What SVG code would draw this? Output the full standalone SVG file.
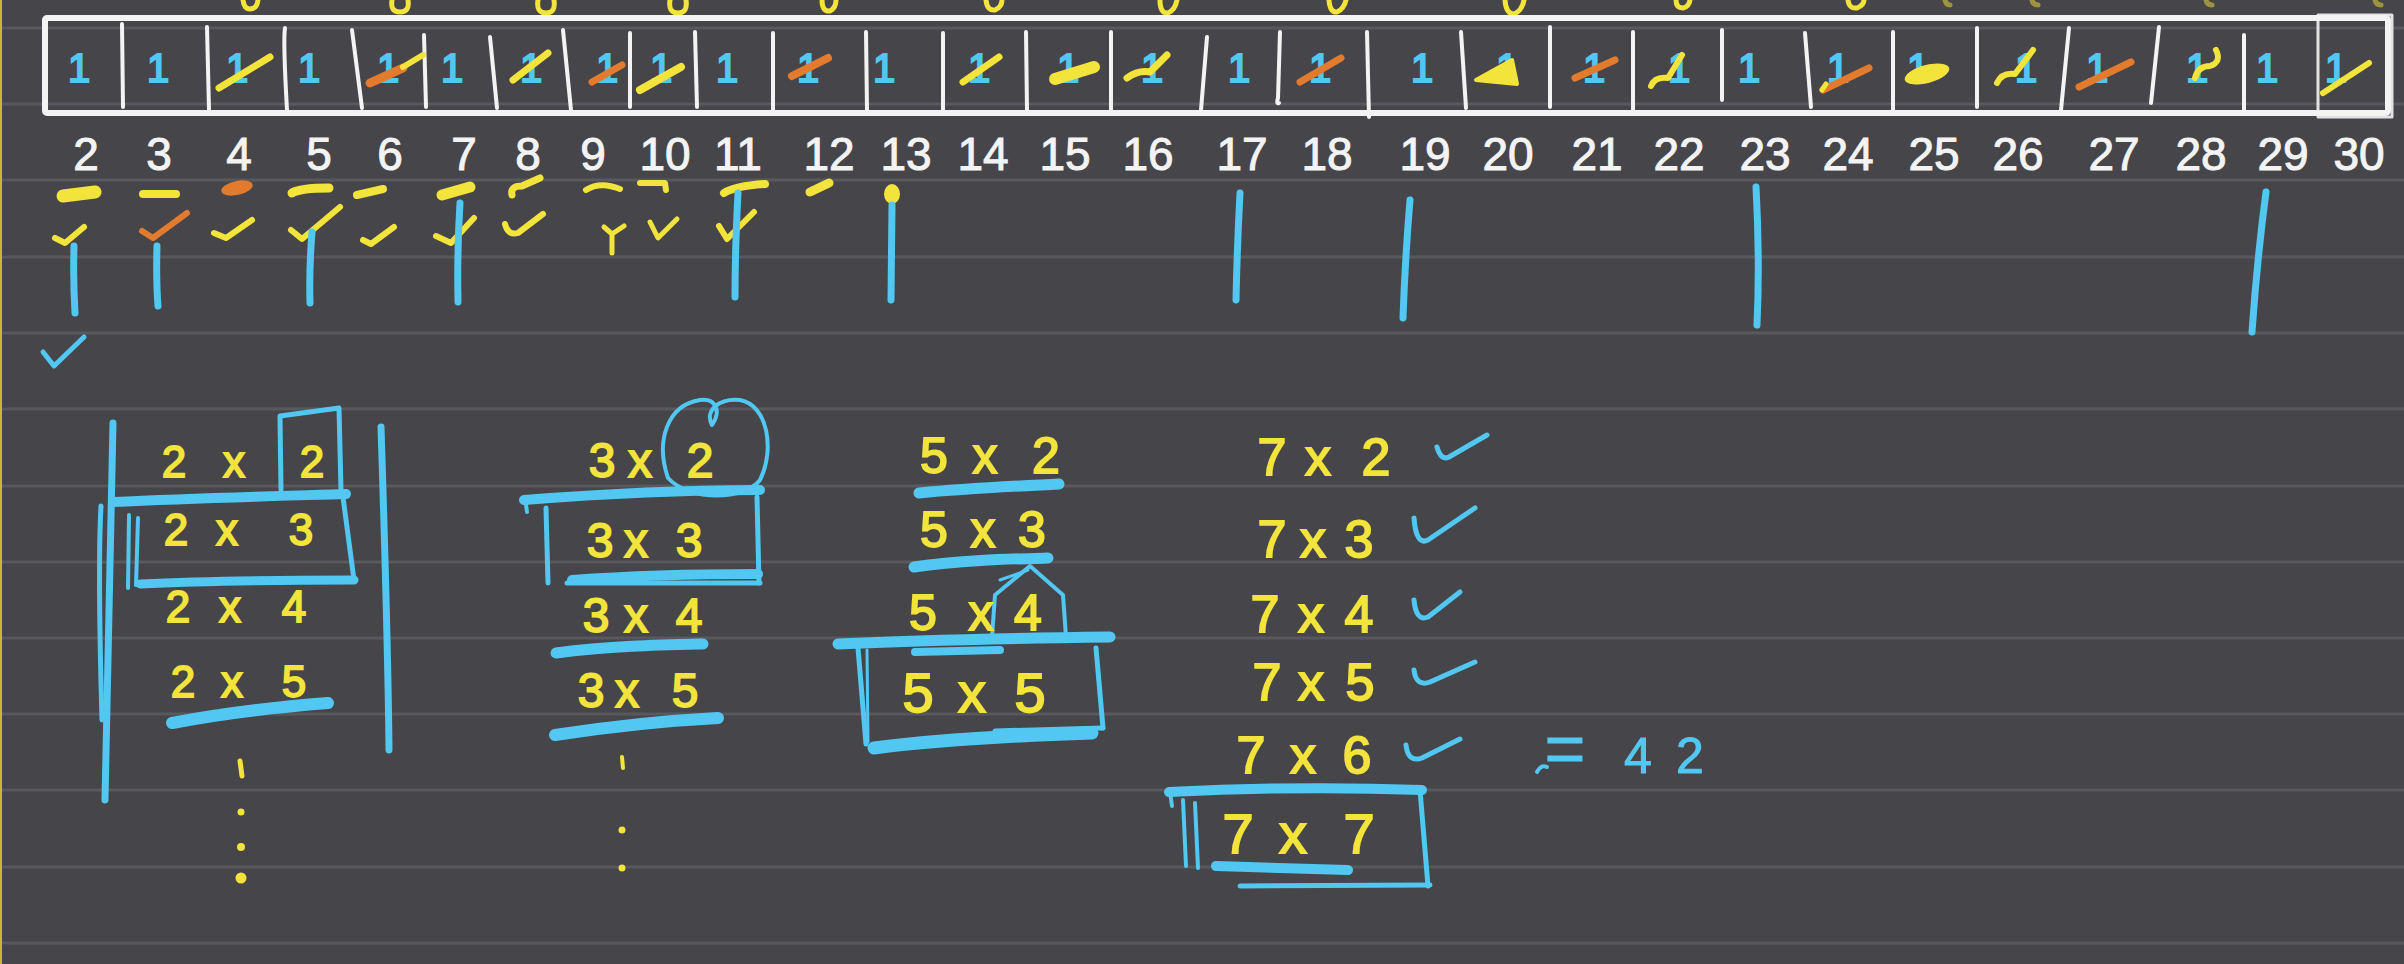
<svg xmlns="http://www.w3.org/2000/svg" width="2404" height="964" viewBox="0 0 2404 964">
<defs>
<style>
.rule{stroke:#59585c;stroke-width:3}
.wl{fill:none;stroke:#f3f3f3;stroke-linecap:round;stroke-linejoin:round}
.cy{fill:none;stroke:#52c7f1;stroke-linecap:round;stroke-linejoin:round}
.ye{fill:none;stroke:#f3e43c;stroke-linecap:round;stroke-linejoin:round}
.or{fill:none;stroke:#e27b2d;stroke-linecap:round;stroke-linejoin:round}
.num{font-family:"Liberation Sans",Arial,sans-serif;font-size:46px;fill:#f3f3f3;stroke:#f3f3f3;stroke-width:1;text-anchor:middle}
.one{font-family:"Liberation Sans",Arial,sans-serif;font-size:40px;fill:#52c7f1;stroke:#52c7f1;stroke-width:2;text-anchor:middle}
.ex{font-family:"Liberation Sans",Arial,sans-serif;fill:#f3e43c;stroke:#f3e43c;stroke-width:1.8;text-anchor:middle}
.cyt{font-family:"Liberation Sans",Arial,sans-serif;fill:#52c7f1;stroke:#52c7f1;stroke-width:1;text-anchor:middle}
</style>
</defs>
<rect width="2404" height="964" fill="#464549"/>
<g id="ruling">
<line class="rule" x1="0" y1="28" x2="2404" y2="28"/>
<line class="rule" x1="0" y1="104" x2="2404" y2="104"/>
<line class="rule" x1="0" y1="180" x2="2404" y2="180"/>
<line class="rule" x1="0" y1="257" x2="2404" y2="257"/>
<line class="rule" x1="0" y1="333" x2="2404" y2="333"/>
<line class="rule" x1="0" y1="409" x2="2404" y2="409"/>
<line class="rule" x1="0" y1="486" x2="2404" y2="486"/>
<line class="rule" x1="0" y1="562" x2="2404" y2="562"/>
<line class="rule" x1="0" y1="638" x2="2404" y2="638"/>
<line class="rule" x1="0" y1="714" x2="2404" y2="714"/>
<line class="rule" x1="0" y1="790" x2="2404" y2="790"/>
<line class="rule" x1="0" y1="867" x2="2404" y2="867"/>
<line class="rule" x1="0" y1="943" x2="2404" y2="943"/>
<rect x="0" y="0" width="2" height="964" fill="#c9b838"/>
</g>
<g id="top-marks" class="ye" stroke-width="5">
<path d="M243,0 Q244,9 250,9 Q257,9 258,0"/>
<path d="M392,0 Q390,12 400,12 Q410,12 408,0"/>
<path d="M538,0 Q536,13 546,13 Q556,13 554,0"/>
<path d="M670,0 Q668,13 678,13 Q688,13 686,0"/>
<path d="M822,0 Q822,12 830,11 Q836,8 836,0"/>
<path d="M986,0 Q987,11 995,10 Q1002,7 1002,0"/>
<path d="M1160,0 Q1160,14 1168,13 Q1175,10 1177,0"/>
<path d="M1329,0 Q1330,13 1337,12 Q1344,9 1346,0"/>
<path d="M1505,0 Q1506,14 1514,14 Q1522,11 1524,0"/>
<path d="M1676,0 Q1676,8 1683,8 Q1689,7 1690,0"/>
<path d="M1848,0 Q1849,9 1857,8 Q1864,5 1864,0"/>
<path d="M1945,0 Q1946,5 1950,5" opacity="0.5"/>
<path d="M2032,0 Q2033,5 2038,5" opacity="0.5"/>
<path d="M2206,0 Q2207,5 2212,5" opacity="0.5"/>
<path d="M2375,0 Q2376,5 2381,5" opacity="0.5"/>
</g>
<g id="array">
<rect class="wl" x="45" y="18" width="2343" height="95" stroke-width="6" rx="2"/>
<rect class="wl" x="2318" y="15" width="74" height="102" stroke-width="3" opacity="0.9"/>
<g class="wl" stroke-width="4">
<path d="M122,24 L123,107"/>
<path d="M207,27 L209,110"/>
<path d="M285,28 Q283,40 287,110"/>
<path d="M352,30 L362,108"/>
<path d="M424,35 L426,107"/>
<path d="M490,37 L497,108"/>
<path d="M563,30 L571,110"/>
<path d="M630,33 L630,107"/>
<path d="M695,32 L697,107"/>
<path d="M773,33 L773,110"/>
<path d="M866,32 L867,110"/>
<path d="M943,33 L943,112"/>
<path d="M1026,32 L1027,110"/>
<path d="M1111,32 L1111,112"/>
<path d="M1207,37 L1201,110"/>
<path d="M1280,32 L1278,98 Q1276,104 1279,103"/>
<path d="M1367,32 L1369,117"/>
<path d="M1461,32 L1466,108"/>
<path d="M1550,27 L1550,107"/>
<path d="M1633,32 L1633,110"/>
<path d="M1722,30 L1722,100"/>
<path d="M1805,33 L1811,107"/>
<path d="M1893,32 L1893,110"/>
<path d="M1977,28 L1977,107"/>
<path d="M2069,28 L2061,110"/>
<path d="M2159,27 L2151,103"/>
<path d="M2244,35 L2244,110"/>
</g>
<g id="cell-ones">
<text class="one" x="79" y="82">1</text>
<text class="one" x="158" y="82" font-size="30">1</text>
<text class="one" x="237" y="82">1</text>
<text class="one" x="309" y="82">1</text>
<text class="one" x="388" y="82">1</text>
<text class="one" x="452" y="82">1</text>
<text class="one" x="531" y="82">1</text>
<text class="one" x="607" y="82">1</text>
<text class="one" x="661" y="82">1</text>
<text class="one" x="727" y="82">1</text>
<text class="one" x="808" y="82">1</text>
<text class="one" x="884" y="82">1</text>
<text class="one" x="979" y="82">1</text>
<text class="one" x="1068" y="82">1</text>
<text class="one" x="1152" y="82">1</text>
<text class="one" x="1239" y="82">1</text>
<text class="one" x="1320" y="82">1</text>
<text class="one" x="1422" y="82">1</text>
<text class="one" x="1507" y="82">1</text>
<text class="one" x="1594" y="82">1</text>
<text class="one" x="1679" y="82">1</text>
<text class="one" x="1749" y="82">1</text>
<text class="one" x="1838" y="82">1</text>
<text class="one" x="1918" y="82">1</text>
<text class="one" x="2026" y="82">1</text>
<text class="one" x="2097" y="82">1</text>
<text class="one" x="2197" y="82">1</text>
<text class="one" x="2267" y="82">1</text>
<text class="one" x="2336" y="82">1</text>
</g>
<g id="strikes">
<path class="ye" stroke-width="7" d="M219,88 L270,57"/>
<path class="or" stroke-width="9" d="M370,83 L403,68"/>
<path class="ye" stroke-width="6" d="M403,67 L423,55"/>
<path class="ye" stroke-width="7" d="M513,80 L548,53"/>
<path class="or" stroke-width="7" d="M592,82 L622,65"/>
<path class="ye" stroke-width="8" d="M640,90 L681,67"/>
<path class="or" stroke-width="8" d="M792,76 L828,58"/>
<path class="ye" stroke-width="7" d="M963,82 L999,57"/>
<path class="ye" stroke-width="12" d="M1055,79 L1094,67"/>
<path class="ye" stroke-width="7" d="M1127,78 Q1138,70 1150,72 L1167,55"/>
<path class="or" stroke-width="7" d="M1300,82 L1341,58"/>
<path fill="#f3e43c" stroke="#f3e43c" stroke-width="4" stroke-linejoin="round" d="M1476,80 L1512,60 L1517,84 Z"/>
<path class="or" stroke-width="7" d="M1575,78 L1615,60"/>
<path class="ye" stroke-width="6" d="M1651,86 Q1655,76 1668,78 L1682,55"/>
<path class="or" stroke-width="7" d="M1823,90 L1869,68"/>
<path class="ye" stroke-width="5" d="M1822,90 L1826,84"/>
<ellipse cx="1927" cy="74" rx="23" ry="9" transform="rotate(-15 1927 74)" fill="#f3e43c"/>
<path class="ye" stroke-width="6" d="M1997,83 Q2002,72 2015,74 L2033,50"/>
<path class="or" stroke-width="7" d="M2079,87 L2131,62"/>
<path class="ye" stroke-width="6" d="M2195,78 Q2198,66 2210,66 Q2222,62 2216,50"/>
<path class="ye" stroke-width="6" d="M2323,93 L2369,63"/>
</g>
</g>
<g id="labels">
<text class="num" x="86" y="170">2</text>
<text class="num" x="159" y="170">3</text>
<text class="num" x="239" y="170">4</text>
<text class="num" x="319" y="170">5</text>
<text class="num" x="390" y="170">6</text>
<text class="num" x="464" y="170">7</text>
<text class="num" x="528" y="170">8</text>
<text class="num" x="593" y="170">9</text>
<text class="num" x="665" y="170">10</text>
<text class="num" x="738" y="170">11</text>
<text class="num" x="829" y="170">12</text>
<text class="num" x="906" y="170">13</text>
<text class="num" x="983" y="170">14</text>
<text class="num" x="1065" y="170">15</text>
<text class="num" x="1148" y="170">16</text>
<text class="num" x="1242" y="170">17</text>
<text class="num" x="1327" y="170">18</text>
<text class="num" x="1425" y="170">19</text>
<text class="num" x="1508" y="170">20</text>
<text class="num" x="1597" y="170">21</text>
<text class="num" x="1679" y="170">22</text>
<text class="num" x="1765" y="170">23</text>
<text class="num" x="1848" y="170">24</text>
<text class="num" x="1934" y="170">25</text>
<text class="num" x="2018" y="170">26</text>
<text class="num" x="2114" y="170">27</text>
<text class="num" x="2201" y="170">28</text>
<text class="num" x="2283" y="170">29</text>
<text class="num" x="2359" y="170">30</text>
</g>
<g id="sieve-marks">
<path class="ye" stroke-width="13" d="M63,196 L95,192"/>
<path class="ye" stroke-width="8" d="M143,194 L176,194"/>
<ellipse cx="237" cy="188" rx="16" ry="7" transform="rotate(-12 237 188)" fill="#e27b2d"/>
<path class="ye" stroke-width="9" d="M292,193 Q300,188 329,188"/>
<path class="ye" stroke-width="8" d="M357,195 L383,189"/>
<path class="ye" stroke-width="11" d="M442,195 L470,187"/>
<path class="ye" stroke-width="7" d="M512,195 Q510,186 522,186 L540,178"/>
<path class="ye" stroke-width="6" d="M586,190 Q600,181 620,189"/>
<path class="ye" stroke-width="6" d="M640,183 L665,183 L666,190"/>
<path class="ye" stroke-width="8" d="M724,193 Q735,186 765,184"/>
<path class="ye" stroke-width="9" d="M810,192 L829,183"/>
<ellipse cx="892" cy="194" rx="8" ry="10" fill="#f3e43c"/>
<path class="ye" stroke-width="6" d="M55,238 L65,243 L84,227"/>
<path class="or" stroke-width="6" d="M142,231 L153,238 L187,213"/>
<path class="ye" stroke-width="6" d="M214,233 L226,238 L252,220"/>
<path class="ye" stroke-width="6" d="M291,230 L302,239 L340,207"/>
<path class="ye" stroke-width="6" d="M363,240 L371,244 L394,227"/>
<path class="ye" stroke-width="6" d="M436,236 L451,243 L474,218"/>
<path class="ye" stroke-width="6" d="M505,224 Q508,236 518,233 L543,214"/>
<path class="ye" stroke-width="5" d="M604,227 L612,234 L624,226 M612,234 L612,253"/>
<path class="ye" stroke-width="5" d="M650,222 L658,238 L677,219"/>
<path class="ye" stroke-width="6" d="M719,226 L727,239 L754,212"/>
<g class="cy" stroke-width="7">
<path d="M74,246 Q73,280 75,313"/>
<path d="M157,246 Q156,280 158,306"/>
<path d="M312,232 Q309,270 310,303"/>
<path d="M460,203 Q457,250 458,302"/>
<path d="M738,193 Q735,250 735,297"/>
<path d="M892,205 L891,300"/>
<path d="M1240,193 Q1237,250 1236,300"/>
<path d="M1410,200 Q1405,260 1403,318"/>
<path d="M1756,187 Q1760,260 1757,325"/>
<path d="M2266,192 Q2257,260 2252,332"/>
</g>
<path class="cy" stroke-width="5" d="M43,352 L54,366 L84,337"/>
</g>
<g id="table-2">
<g class="cy" stroke-width="7">
<path d="M113,423 C112,500 108,650 105,800"/>
<path d="M101,506 C98,560 100,650 102,720" stroke-width="5"/>
<path d="M381,427 C384,520 388,650 389,750"/>
<path d="M281,490 L280,416 L339,408 L341,490" stroke-width="5"/>
<path d="M113,502 C200,498 280,496 346,494" stroke-width="10"/>
<path d="M343,497 L354,580" stroke-width="5"/>
<path d="M140,584 C220,580 300,580 354,580" stroke-width="9"/>
<path d="M129,515 L128,588" stroke-width="4"/>
<path d="M138,518 L136,585" stroke-width="4"/>
<path d="M172,723 C230,712 290,706 328,703" stroke-width="12"/>
</g>
<text class="ex" font-size="44" x="174 204 234 273 312" y="477">2 x 2</text>
<text class="ex" font-size="44" x="176 201 227 264 301" y="545">2 x 3</text>
<text class="ex" font-size="44" x="178 204 230 262 294" y="622">2 x 4</text>
<text class="ex" font-size="44" x="183 207 232 263 294" y="697">2 x 5</text>
<path class="ye" stroke-width="5" d="M240,761 L242,776"/>
<circle cx="241" cy="812" r="3.5" fill="#f3e43c"/>
<circle cx="241" cy="847" r="4" fill="#f3e43c"/>
<circle cx="241" cy="878" r="5.5" fill="#f3e43c"/>
</g>
<g id="table-3">
<g class="cy" stroke-width="5">
<path d="M668,478 C655,440 668,405 700,400 C715,398 722,410 712,425 C704,410 720,398 740,400 C768,405 775,450 760,480 C745,500 690,502 668,478" stroke-width="4"/>
<path d="M524,500 C600,494 690,490 760,490" stroke-width="10"/>
<path d="M525,497 L527,512" stroke-width="4"/>
<path d="M546,508 L548,583"/>
<path d="M757,497 L759,583"/>
<path d="M567,583 L760,583"/>
<path d="M572,580 C640,575 700,574 758,574" stroke-width="10"/>
<path d="M556,653 C610,646 660,645 703,644" stroke-width="11"/>
<path d="M555,735 C620,725 680,720 718,718" stroke-width="12"/>
</g>
<text class="ex" font-size="48" x="602 621 640 670 700" y="477">3 x 2</text>
<text class="ex" font-size="48" x="600 618 636 662 689" y="557">3 x 3</text>
<text class="ex" font-size="48" x="596 616 636 662 689" y="632">3 x 4</text>
<text class="ex" font-size="48" x="591 609 627 656 685" y="707">3 x 5</text>
<path class="ye" stroke-width="4" d="M622,757 L623,768"/>
<circle cx="622" cy="830" r="3.5" fill="#f3e43c"/>
<circle cx="622" cy="868" r="3.5" fill="#f3e43c"/>
</g>
<g id="table-5">
<g class="cy" stroke-width="5">
<path d="M919,493 C970,488 1020,486 1059,484" stroke-width="11"/>
<path d="M914,567 C960,560 1010,559 1048,558" stroke-width="11"/>
<path d="M992,637 L995,595 L1030,566 L1063,595 L1066,637" stroke-width="4"/>
<path d="M1000,580 L1028,570" stroke-width="3"/>
<path d="M838,644 C920,640 1030,638 1110,637" stroke-width="11"/>
<path d="M915,652 L1000,650" stroke-width="8"/>
<path d="M858,648 L866,744"/>
<path d="M867,650 L868,742" stroke-width="3"/>
<path d="M1096,648 L1103,728"/>
<path d="M995,731 L1103,728"/>
<path d="M874,748 C950,738 1030,735 1092,733" stroke-width="13"/>
</g>
<text class="ex" font-size="50" x="934 960 985 1015 1046" y="473">5 x 2</text>
<text class="ex" font-size="50" x="934 958 983 1008 1032" y="547">5 x 3</text>
<text class="ex" font-size="50" x="923 952 981 1004 1028" y="630">5 x 4</text>
<text class="ex" font-size="56" x="918 945 972 1001 1030" y="712">5 x 5</text>
</g>
<g id="table-7">
<g class="cy" stroke-width="5">
<path d="M1437,447 Q1441,461 1449,457 L1487,435"/>
<path d="M1414,518 Q1416,546 1428,540 L1475,508"/>
<path d="M1414,600 Q1416,622 1428,617 L1460,592"/>
<path d="M1414,670 Q1416,687 1430,682 L1475,662"/>
<path d="M1406,745 Q1408,763 1422,758 L1460,739"/>
<path d="M1169,792 C1250,788 1340,787 1422,790" stroke-width="10"/>
<path d="M1170,792 L1172,806" stroke-width="4"/>
<path d="M1183,800 L1186,866" stroke-width="4"/>
<path d="M1195,803 L1198,868" stroke-width="4"/>
<path d="M1420,790 L1428,886"/>
<path d="M1240,886 L1430,885"/>
<path d="M1216,866 L1348,870" stroke-width="10"/>
<path d="M1537,772 Q1541,764 1547,767" stroke-width="4"/>
</g>
<text class="ex" font-size="52" x="1272 1295 1318 1347 1376" y="475">7 x 2</text>
<text class="ex" font-size="52" x="1272 1292 1313 1336 1359" y="557">7 x 3</text>
<text class="ex" font-size="52" x="1265 1288 1311 1335 1359" y="632">7 x 4</text>
<text class="ex" font-size="52" x="1267 1289 1311 1335 1360" y="700">7 x 5</text>
<text class="ex" font-size="52" x="1251 1277 1303 1330 1357" y="773">7 x 6</text>
<text class="ex" font-size="56" x="1238 1265 1293 1326 1359" y="853">7 x 7</text>
<text class="cyt" x="1565 1602 1638 1690" y="773"><tspan font-size="70">=</tspan><tspan font-size="50"> 42</tspan></text>
</g>
</svg>
